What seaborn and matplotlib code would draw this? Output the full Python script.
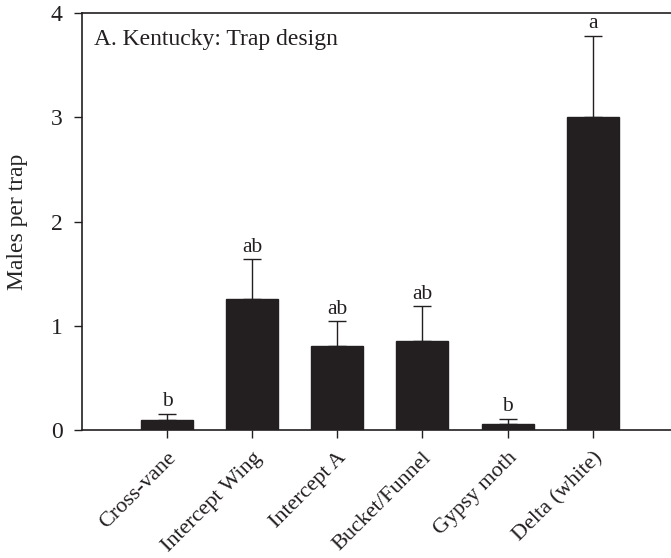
import matplotlib
matplotlib.use("Agg")
import matplotlib.pyplot as plt
import seaborn as sns
import pandas as pd

categories = ["Cross-vane", "Intercept Wing", "Intercept A", "Bucket/Funnel", "Gypsy moth", "Delta (white)"]
means = [0.10, 1.26, 0.81, 0.86, 0.06, 3.00]
errors = [0.06, 0.38, 0.235, 0.33, 0.05, 0.78]
letters = ["b", "ab", "ab", "ab", "b", "a"]
yticks = [0, 1, 2, 3, 4]

sns.set_theme(style="ticks")
plt.rcParams['font.family'] = ['Liberation Serif', 'DejaVu Serif']

df = pd.DataFrame({"trap": categories, "mean": means})

fig = plt.figure(figsize=(6.71, 5.58), dpi=100)
ax = fig.add_axes([0.122, 0.2285, 0.878, 0.7485])
sns.barplot(data=df, x="trap", y="mean", color="#231f20", width=0.61,
            saturation=1, ax=ax, errorbar=None)
for p in ax.patches:
    p.set_edgecolor("#231f20")

x = list(range(len(categories)))
ax.errorbar(x, means, yerr=[[0]*len(errors), errors], fmt="none",
            ecolor="#231f20", elinewidth=1, capsize=6.5, capthick=1)
for xi, m, e, l in zip(x, means, errors, letters):
    ax.text(xi, m + e + 0.025, l, ha="center", va="bottom", fontsize=15.5, color="#231f20")

ax.set_xlim(-1, 5.92)
ax.set_ylim(0, 4)
ax.set_yticks(yticks)
ax.set_yticklabels([str(t) for t in yticks], fontsize=17)
ax.set_xticks(x)
ax.set_xticklabels(categories, rotation=45, ha="right", va="top",
                   rotation_mode="anchor", fontsize=16)
ax.set_xlabel("")
ax.set_ylabel("Males per trap", fontsize=17)
ax.yaxis.set_label_coords(-0.092, 0.5)
ax.text(0.02, 0.962, "A. Kentucky: Trap design", transform=ax.transAxes,
        ha="left", va="top", fontsize=17, color="#231f20")

for s in ["left", "bottom", "top"]:
    ax.spines[s].set_color("#231f20")
    ax.spines[s].set_linewidth(1.2)
ax.spines["right"].set_visible(False)
ax.tick_params(axis="both", direction="out", length=6, width=1, color="#231f20",
               labelcolor="#231f20")
ax.tick_params(axis="x", pad=7)
ax.tick_params(axis="y", pad=8)

fig.savefig("out.png", dpi=100)
